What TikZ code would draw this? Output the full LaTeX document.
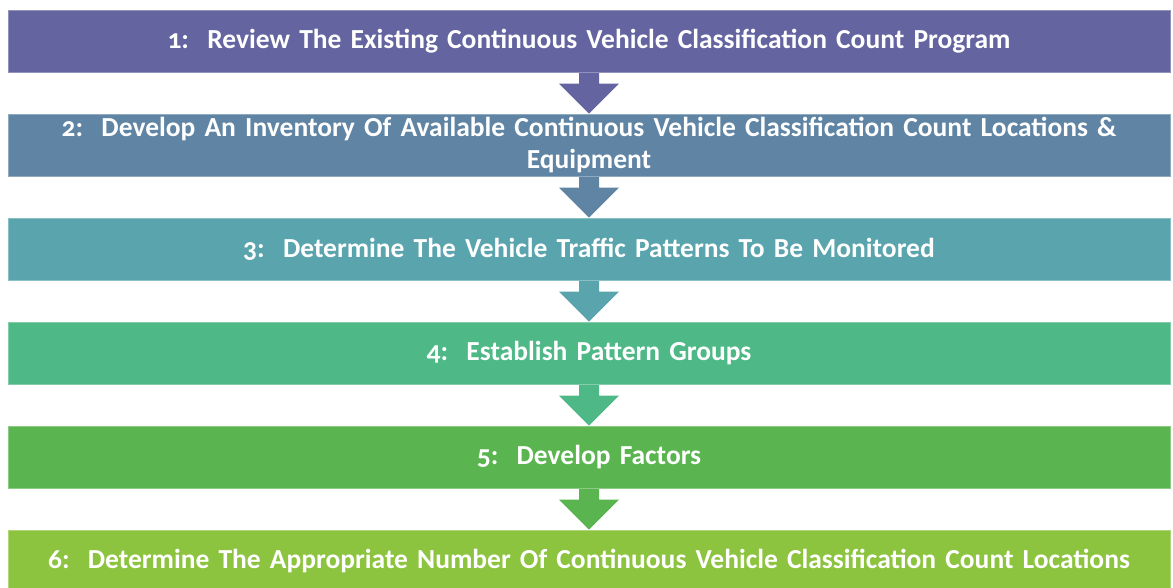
\documentclass[tikz,border=0pt]{standalone}
\usepackage{fontspec}
\setmainfont{Carlito}[Numbers=OldStyle]
\usetikzlibrary{calc}
\pgfdeclarelayer{bg}
\pgfsetlayers{bg,main}
\definecolor{cA}{HTML}{6465A0}
\definecolor{cB}{HTML}{5F84A4}
\definecolor{cC}{HTML}{59A4AD}
\definecolor{cD}{HTML}{4EB886}
\definecolor{cE}{HTML}{5AB550}
\definecolor{cF}{HTML}{8CC43F}
\tikzset{
  bar/.style={fill=#1, draw=#1!70!white, line width=0.8pt, minimum width=1162pt, minimum height=62pt,
    inner sep=0pt, text=white, font=\fontsize{27.5}{32}\selectfont\bfseries, align=center, text width=1150pt},
  flowarrow/.style={fill=#1}
}
\newcommand{\flowarr}[3]{% from node, to node, colour
  \fill[flowarrow=#3] ($(#1.south)+(-10pt,2pt)$) -- ($(#2.north)+(-10pt,30pt)$) -- ($(#2.north)+(-30pt,30pt)$)
    -- (#2.north) -- ($(#2.north)+(30pt,30pt)$) -- ($(#2.north)+(10pt,30pt)$) -- ($(#1.south)+(10pt,2pt)$) -- cycle;}
\begin{document}
\begin{tikzpicture}[x=1pt,y=1pt]
\useasboundingbox (0,0) rectangle (1173,-588);
\node[bar=cA] (b1) at (589,-41) {1:\ \ Review The Existing Continuous Vehicle Classification Count Program};
\node[bar=cB] (b2) at (589,-145) {2:\ \ Develop An Inventory Of Available Continuous Vehicle Classification Count Locations \&\\Equipment};
\node[bar=cC] (b3) at (589,-249) {3:\ \ Determine The Vehicle Traffic Patterns To Be Monitored};
\node[bar=cD] (b4) at (589,-353) {4:\ \ Establish Pattern Groups};
\node[bar=cE] (b5) at (589,-457) {5:\ \ Develop Factors};
\node[bar=cF] (b6) at (589,-561) {6:\ \ Determine The Appropriate Number Of Continuous Vehicle Classification Count Locations};
\begin{pgfonlayer}{bg}
\flowarr{b1}{b2}{cA}
\flowarr{b2}{b3}{cB}
\flowarr{b3}{b4}{cC}
\flowarr{b4}{b5}{cD}
\flowarr{b5}{b6}{cE}
\end{pgfonlayer}
\end{tikzpicture}
\end{document}
